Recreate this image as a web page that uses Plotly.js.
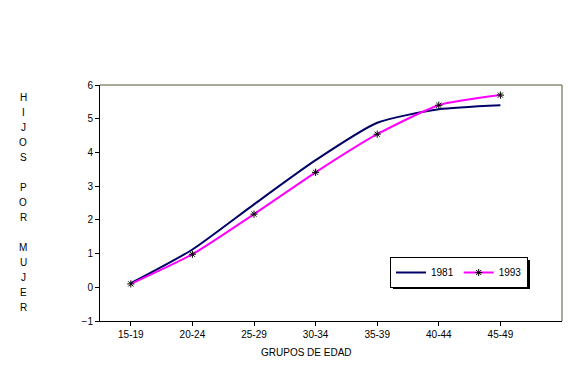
<!DOCTYPE html>
<html>
<head>
<meta charset="utf-8">
<script src="https://cdn.plot.ly/plotly-3.0.1.min.js"></script>
<style>html,body{margin:0;padding:0;background:#fff;}#chart{width:583px;height:367px;}</style>
</head>
<body>
<div id="chart"></div>
<script>
const categories = ["15-19", "20-24", "25-29", "30-34", "35-39", "40-44", "45-49"];
const values1981 = [0.12, 1.12, 2.46, 3.77, 4.88, 5.28, 5.40];
const values1993 = [0.10, 0.98, 2.17, 3.41, 4.54, 5.40, 5.70];
const seriesNames = ["1981", "1993"];
const yTitle = "HIJOS POR MUJER";
const xTitle = "GRUPOS DE EDAD";

const W = 583, H = 367;
const M = {l: 100, r: 21, t: 85, b: 46, autoexpand: false};
const plotW = W - M.l - M.r, plotH = H - M.t - M.b;
const FONT = "Arial, 'Liberation Sans', sans-serif";

const traces = [
  {
    x: categories, y: values1981, name: seriesNames[0], type: "scatter", mode: "lines",
    line: {color: "#000066", width: 2, shape: "spline", smoothing: 0.6}
  },
  {
    x: categories, y: values1993, name: seriesNames[1], type: "scatter", mode: "lines+markers",
    line: {color: "#ff00ff", width: 2, shape: "spline", smoothing: 0.6},
    marker: {symbol: "asterisk-open", size: 6, color: "#000", line: {color: "#000", width: 1}}
  }
];

const annotations = [];
const lineStep = 15;
let py = 97;
for (const ch of yTitle) {
  if (ch !== " ") {
    annotations.push({
      xref: "paper", yref: "paper", x: (23 - M.l) / plotW, y: (M.t + plotH - py) / plotH,
      xanchor: "center", yanchor: "middle", showarrow: false, text: ch,
      font: {family: FONT, size: 10, color: "#000"}
    });
  }
  py += lineStep;
}
annotations.push({
  xref: "paper", yref: "paper", x: (306 - M.l) / plotW, y: (M.t + plotH - 352) / plotH,
  xanchor: "center", yanchor: "middle", showarrow: false, text: xTitle,
  font: {family: FONT, size: 10, color: "#000"}
});

const px = v => (v - M.l) / plotW;
const pyv = v => (M.t + plotH - v) / plotH;

const layout = {
  width: W, height: H,
  margin: M,
  paper_bgcolor: "#fff", plot_bgcolor: "#fff",
  font: {family: FONT, size: 10, color: "#000"},
  showlegend: true,
  legend: {
    orientation: "h", x: px(390), y: pyv(257), xanchor: "left", yanchor: "top",
    bgcolor: "#fff", bordercolor: "#000", borderwidth: 1,
    font: {family: FONT, size: 10, color: "#000"},
    itemwidth: 30, tracegroupgap: 0
  },
  xaxis: {
    type: "category", range: [-0.5, 7.0], showgrid: false, zeroline: false,
    showline: true, linecolor: "#000", linewidth: 1,
    ticks: "outside", ticklen: 4, tickcolor: "#000",
    tickfont: {family: FONT, size: 10, color: "#000"}
  },
  yaxis: {
    range: [-1, 6], dtick: 1, showgrid: false, zeroline: false,
    showline: true, linecolor: "#000", linewidth: 1,
    ticks: "outside", ticklen: 4, tickcolor: "#000",
    tickfont: {family: FONT, size: 10, color: "#000"}
  },
  shapes: [
    {type: "line", xref: "paper", yref: "paper", x0: 0, x1: 1, y0: 1, y1: 1, line: {color: "#555533", width: 1}},
    {type: "line", xref: "paper", yref: "paper", x0: 1, x1: 1, y0: 0, y1: 1, line: {color: "#555533", width: 1}},
    {type: "rect", xref: "paper", yref: "paper", layer: "above",
     x0: px(393), x1: px(530), y0: pyv(260), y1: pyv(289), fillcolor: "#000", line: {width: 0}}
  ],
  annotations: annotations
};

Plotly.newPlot("chart", traces, layout, {displayModeBar: false, staticPlot: true});
</script>
</body>
</html>
